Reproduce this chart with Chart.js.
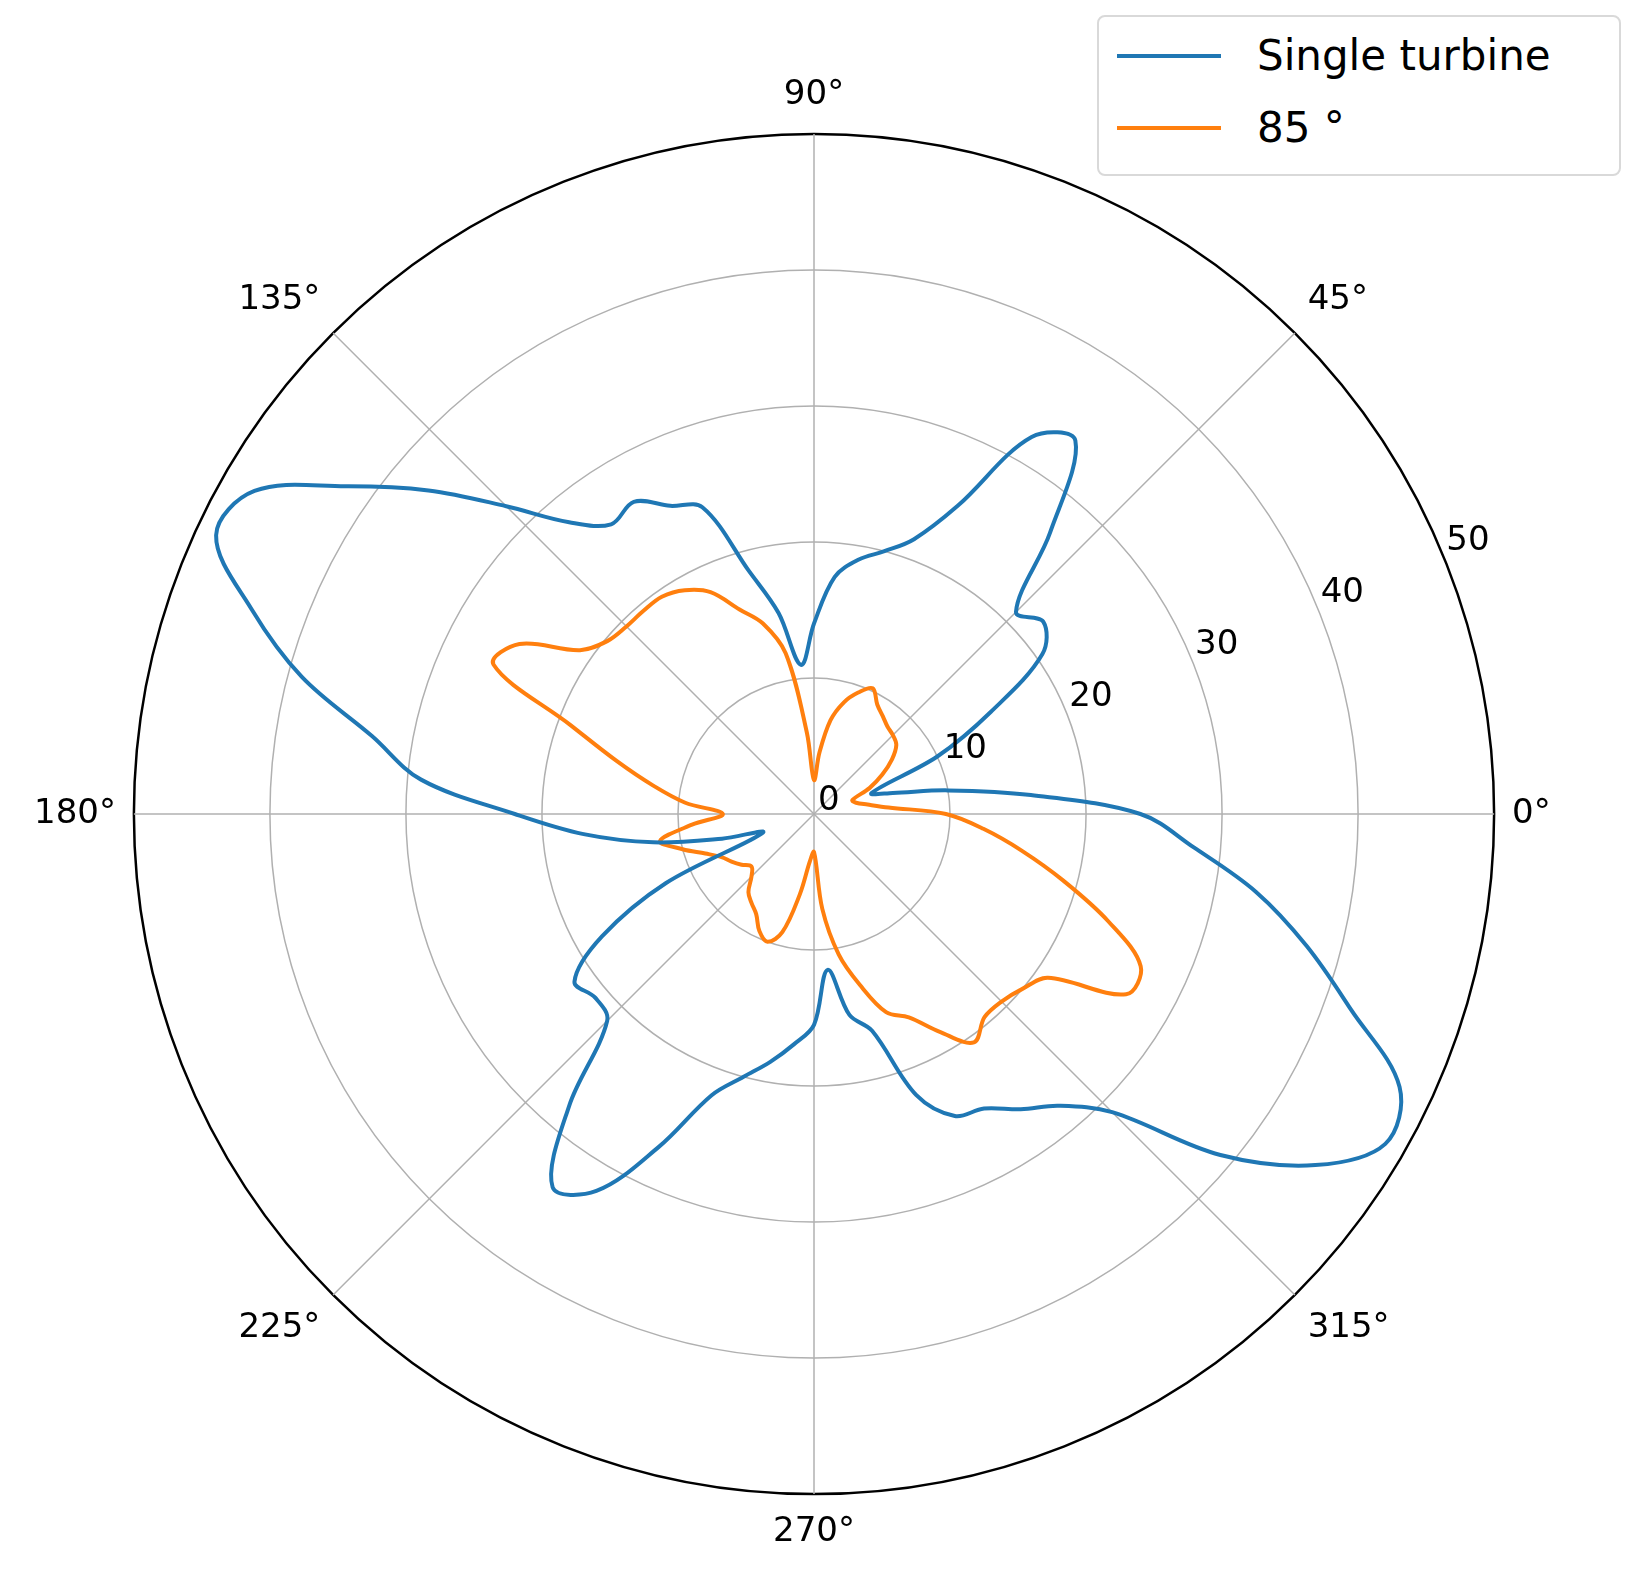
<!DOCTYPE html>
<html>
<head>
<meta charset="utf-8">
<script src="https://cdn.jsdelivr.net/npm/chart.js@4"></script>
<style>
  body { margin: 0; background: #fff; font-family: "DejaVu Sans", sans-serif; }
  #wrap { position: absolute; left: 0; top: 0; width: 1641px; height: 1580px; }
  #legend { position: absolute; left: 1097px; top: 15px; width: 520px; height: 157px;
    border: 2px solid #d9d9d9; border-radius: 8px; background: #fff; font-size: 42px; }
  .row { position: absolute; left: 18px; display: flex; align-items: center; }
  .sw { width: 104px; height: 4px; margin-right: 36px; }
</style>
</head>
<body>
<div id="wrap"><canvas id="polarChart"></canvas></div>
<div id="legend">
  <div class="row" style="top:14px"><div class="sw" style="background:#1f77b4"></div>Single turbine</div>
  <div class="row" style="top:86px"><div class="sw" style="background:#ff7f0e"></div>85 °</div>
</div>
<script>
// angles in degrees, counter-clockwise from east
const angles = [];
for (let a = 0; a < 360; a += 5) angles.push(a);

const singleTurbine = [24, 16, 10, 6, 4.5, 10, 15, 20.5, 22, 21, 27, 33.5, 32, 25, 21.5, 20, 19, 17.5,
  14, 11, 15, 18.5, 24, 25, 26.5, 26, 28, 32, 37, 42, 47.5, 48.5, 44, 39, 33, 29,
  22, 17, 12, 7, 4, 12, 18, 21.5, 21, 21.5, 28, 33.5, 32, 27, 22, 20, 18.5, 17,
  15.5, 11.5, 15, 16.5, 22, 24.5, 25, 26.5, 28, 31, 39, 45, 48.5, 47.5, 42, 37.5, 33, 28];

const yaw85 = [9.7, 5.5, 4, 3.2, 3, 4.5, 5.8, 7, 7.9, 8.2, 8.4, 8.8, 9.3, 10.2, 9.5, 8.5, 7, 4.5,
  2.5, 6, 12, 14.5, 16, 18, 19, 19.5, 19.5, 19.5, 19.8, 21, 25, 26, 19, 15, 12, 9.5,
  6.7, 9, 11.5, 10, 8.5, 7.5, 7, 6.5, 6, 6.5, 7.5, 8, 8.5, 9.5, 10, 9, 6, 3.5,
  2.8, 7, 10.5, 13, 15.5, 16.5, 18.5, 20.5, 19.5, 19.5, 20, 21, 26.5, 26.5, 23, 19, 15.5, 12.5];

const radialTicks = [0, 10, 20, 30, 40, 50];

// radar goes clockwise from the top: index i sits at math angle 90 - 5i
function reorder(arr) {
  return angles.map((_, i) => arr[((90 - 5 * i) % 360 + 360) % 360 / 5]);
}
const labels = angles.map((_, i) => ((90 - 5 * i) % 360 + 360) % 360);

// radial tick labels along the 22.5° line, like matplotlib
const tickPlugin = {
  id: "polarTicks",
  afterDraw(chart) {
    const s = chart.scales.r;
    const c = chart.ctx;
    const th = 22.5 * Math.PI / 180;
    c.save();
    c.font = "34px 'DejaVu Sans'";
    c.fillStyle = "#000";
    c.textAlign = "left";
    c.textBaseline = "bottom";
    radialTicks.forEach(v => {
      const d = s.getDistanceFromCenterForValue(v);
      c.fillText(String(v), s.xCenter + d * Math.cos(th) + 4, s.yCenter - d * Math.sin(th) + 4);
    });
    c.restore();
  }
};

new Chart(document.getElementById("polarChart"), {
  type: "radar",
  data: {
    labels: labels,
    datasets: [
      { label: "Single turbine", data: reorder(singleTurbine), borderColor: "#1f77b4",
        borderWidth: 4, fill: false, pointRadius: 0, tension: 0.35 },
      { label: "85 °", data: reorder(yaw85), borderColor: "#ff7f0e",
        borderWidth: 4, fill: false, pointRadius: 0, tension: 0.35 }
    ]
  },
  options: {
    responsive: true,
    maintainAspectRatio: false,
    animation: false,
    layout: { padding: { left: 12, right: 68, top: 60, bottom: 12 } },
    plugins: { legend: { display: false }, tooltip: { enabled: false } },
    scales: {
      r: {
        min: 0, max: 50,
        ticks: { stepSize: 10, display: false },
        grid: {
          circular: true,
          lineWidth: ctx => ctx.index === 5 ? 2.5 : 1.5,
          color: ctx => ctx.index === 5 ? "#000" : "#b0b0b0"
        },
        angleLines: {
          lineWidth: 1.5,
          color: ctx => labels[ctx.index] % 45 === 0 ? "#b0b0b0" : "rgba(0,0,0,0)"
        },
        pointLabels: {
          font: { family: "DejaVu Sans", size: 34 },
          color: "#000",
          padding: 18,
          callback: (l) => l % 45 === 0 ? l + "°" : ""
        }
      }
    }
  },
  plugins: [tickPlugin]
});
</script>
</body>
</html>
